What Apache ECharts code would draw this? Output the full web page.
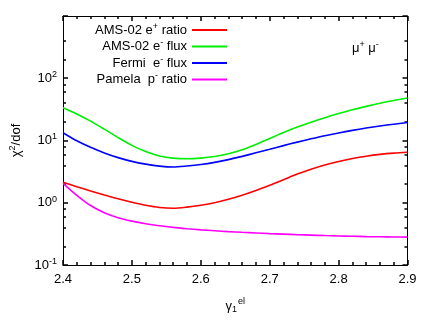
<!DOCTYPE html>
<html><head><meta charset="utf-8">
<script src="https://cdn.jsdelivr.net/npm/echarts@6/dist/echarts.min.js"></script>
<style>html,body{margin:0;padding:0;background:#fff}#c{width:432px;height:322px}</style>
</head><body><div id="c"></div><script>
const xValues = [2.40,2.42,2.44,2.46,2.48,2.50,2.52,2.54,2.56,2.58,2.60,2.62,2.64,2.66,2.68,2.70,2.72,2.74,2.76,2.78,2.80,2.82,2.84,2.86,2.88,2.90];
const amsPosRatio = [2.128,1.811,1.549,1.334,1.156,1.019,0.912,0.841,0.817,0.851,0.912,1.000,1.135,1.318,1.567,1.905,2.344,2.884,3.467,4.046,4.603,5.129,5.598,5.984,6.266,6.457];
const amsEFlux = [33.65,26.73,20.51,15.21,11.14,8.36,6.64,5.65,5.21,5.09,5.21,5.52,6.12,7.11,8.65,10.76,13.40,16.41,19.72,23.28,27.10,31.12,35.32,39.63,43.95,48.19];
const fermiEFlux = [13.34,9.89,7.76,6.31,5.31,4.62,4.17,3.87,3.75,3.89,4.11,4.45,4.93,5.56,6.34,7.24,8.28,9.42,10.64,11.94,13.24,14.55,15.85,17.10,18.28,19.41];
const pamelaPRatio = [2.051,1.318,0.902,0.692,0.575,0.507,0.460,0.427,0.402,0.383,0.367,0.355,0.344,0.335,0.327,0.319,0.313,0.307,0.302,0.297,0.293,0.290,0.286,0.284,0.282,0.280];
const seriesNames = ['AMS-02 e+ ratio','AMS-02 e- flux','Fermi  e- flux','Pamela  p- ratio'];
const legendRich = {
  'AMS-02 e+ ratio': '{n|AMS-02 e}{s|+}{n| ratio}',
  'AMS-02 e- flux': '{n|AMS-02 e}{s|-}{n| flux}',
  'Fermi  e- flux': '{n|Fermi  e}{s|-}{n| flux}',
  'Pamela  p- ratio': '{n|Pamela  p}{s|-}{n| ratio}'
};
const seriesColors = ['#ff0000','#00ee00','#0000ff','#ff00ff'];
const seriesValues = [amsPosRatio, amsEFlux, fermiEFlux, pamelaPRatio];
const yMinorTicks = [0.2,0.4,0.6,0.8,2,4,6,8,20,40,60,80,200,400];
const FONT = 'Liberation Sans, Arial, sans-serif';

const chart = echarts.init(document.getElementById('c'), null, {renderer:'canvas'});
function frame(){ return {show:true, onZero:false, lineStyle:{color:'#000', width:1}}; }
function tickStyle(){ return {color:'#000', width:1.5}; }
function supStyle(){ return {fontSize:9, fontFamily:FONT, color:'#000', padding:[0,0,7,0]}; }
function baseStyle(){ return {fontSize:13, fontFamily:FONT, color:'#000'}; }
function xAxisDef(pos, labels){
  return {
    type:'value', position:pos, min:2.4, max:2.9, interval:0.1,
    axisLine:frame(),
    axisTick:{show:true, inside:true, length:5, lineStyle:tickStyle()},
    minorTick:{show:true, splitNumber:5, length:3, lineStyle:tickStyle()},
    splitLine:{show:false},
    axisLabel:{show:labels, fontSize:13, fontFamily:FONT, color:'#000', margin:8, formatter:v=>v.toFixed(1)},
    name: labels ? '{a|γ}{b|1}{c|el}' : '',
    nameLocation:'middle', nameGap:32,
    nameTextStyle:{rich:{a:{fontSize:13,fontFamily:FONT,color:'#000'}, b:{fontSize:9,fontFamily:FONT,color:'#000',padding:[6,0,0,0]}, c:{fontSize:9,fontFamily:FONT,color:'#000',padding:[0,0,10,1]}}}
  };
}
function yAxisDef(pos, labels, minor){
  return {
    type:'log', logBase:10, position:pos, min:0.1, max:1000,
    axisLine: minor ? {show:false, onZero:false} : frame(),
    axisTick: minor ? {show:true, inside:true, length:3, customValues:yMinorTicks, lineStyle:tickStyle()}
                    : {show:true, inside:true, length:5, lineStyle:tickStyle()},
    splitLine:{show:false},
    axisLabel:{show:labels, margin:6, formatter:function(v){
      const e = Math.round(Math.log10(v));
      if (e >= 3) return '';
      return '{b|10}{e|' + e + '}';
    }, rich:{b:baseStyle(), e:supStyle()}},
    name: labels ? '{a|χ}{s|2}{a|/dof}' : '',
    nameLocation:'middle', nameGap:39, nameRotate:90,
    nameTextStyle:{rich:{a:baseStyle(), s:supStyle()}}
  };
}
chart.setOption({
  animation:false,
  backgroundColor:'#fff',
  grid:{left:58, right:24.5, top:16, bottom:57},
  xAxis:[xAxisDef('bottom', true), xAxisDef('top', false)],
  yAxis:[yAxisDef('left', true, false), yAxisDef('left', false, true), yAxisDef('right', false, false), yAxisDef('right', false, true)],
  legend:{
    orient:'vertical', right:200, top:17, align:'right', icon:'rect',
    itemWidth:35, itemHeight:2, itemGap:2,
    data:seriesNames,
    formatter:n=>legendRich[n],
    textStyle:{rich:{n:{fontSize:13,fontFamily:FONT,color:'#000',lineHeight:14}, s:{fontSize:9,fontFamily:FONT,color:'#000',padding:[0,0,7,0]}}}
  },
  graphic:[{type:'text', left:352, top:40, style:{text:'{m|μ}{s|+}{m| μ}{s|-}', rich:{m:baseStyle(), s:supStyle()}}}],
  series: seriesNames.map((name,i)=>({
    name, type:'line', xAxisIndex:0, yAxisIndex:0, showSymbol:false, smooth:0.3,
    color:seriesColors[i], lineStyle:{width:1.6, color:seriesColors[i]},
    data: xValues.map((x,j)=>[x, seriesValues[i][j]])
  }))
});
</script></body></html>
